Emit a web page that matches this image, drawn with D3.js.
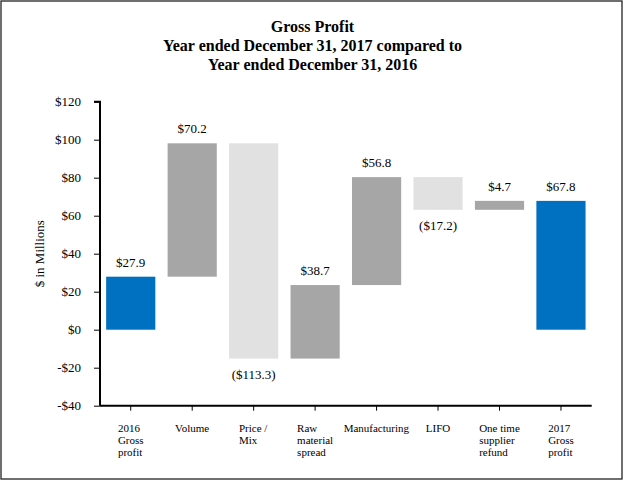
<!DOCTYPE html>
<html>
<head>
<meta charset="utf-8">
<script src="https://cdn.jsdelivr.net/npm/d3@7"></script>
<style>
  html, body { margin: 0; padding: 0; background: #fff; }
  svg { display: block; font-family: "Liberation Serif", "Times New Roman", serif; }
</style>
</head>
<body>
<svg id="chart" width="626" height="486"></svg>
<script>
const titleLines = ["Gross Profit", "Year ended December 31, 2017 compared to", "Year ended December 31, 2016"];
const categories = ["2016\nGross\nprofit", "Volume", "Price /\nMix", "Raw\nmaterial\nspread", "Manufacturing", "LIFO", "One time\nsupplier\nrefund", "2017\nGross\nprofit"];
const values = [27.9, 70.2, -113.3, 38.7, 56.8, -17.2, 4.7, 67.8];
const kinds = ["total", "delta", "delta", "delta", "delta", "delta", "delta", "total"];
const yTicks = [-40, -20, 0, 20, 40, 60, 80, 100, 120];
const yLabel = "$ in Millions";

const svg = d3.select("#chart");
const W = 626, H = 486;
const margin = { left: 100, right: 34.3, top: 101.7, bottom: 80.3 };
const serif = "Liberation Serif, Times New Roman, serif";

// frame
svg.append("rect").attr("x", 1).attr("y", 1).attr("width", 621).attr("height", 478)
  .attr("fill", "none").attr("stroke", "#222").attr("stroke-width", 1.3);

// title
const title = svg.append("text").attr("text-anchor", "middle")
  .attr("font-weight", "bold").attr("font-size", 16).attr("fill", "#000");
titleLines.forEach((t, i) => {
  title.append("tspan").attr("x", 312.5).attr("y", 32.3 + i * 19).text(t);
});

const x = d3.scaleBand().domain(categories).range([margin.left, W - margin.right]).paddingInner(0.2).paddingOuter(0.1);
const y = d3.scaleLinear().domain([-40, 120]).range([H - margin.bottom, margin.top]);

// waterfall computation
let running = 0;
const bars = categories.map((c, i) => {
  const v = values[i];
  let y0, y1;
  if (kinds[i] === "total") { y0 = 0; y1 = v; running = v; }
  else { y0 = running; y1 = running + v; running = y1; }
  return { c, v, kind: kinds[i], lo: Math.min(y0, y1), hi: Math.max(y0, y1) };
});

const color = d => d.kind === "total" ? "#0070C0" : (d.v >= 0 ? "#A6A6A6" : "#E1E1E1");

svg.append("g").selectAll("rect").data(bars).join("rect")
  .attr("x", d => x(d.c))
  .attr("width", x.bandwidth())
  .attr("y", d => y(d.hi))
  .attr("height", d => y(d.lo) - y(d.hi))
  .attr("fill", color);

const fmt = v => v >= 0 ? "$" + d3.format(".1f")(v) : "($" + d3.format(".1f")(-v) + ")";

svg.append("g").attr("font-family", serif).selectAll("text").data(bars).join("text")
  .attr("text-anchor", "middle")
  .attr("font-size", 13)
  .attr("fill", "#000")
  .attr("x", d => x(d.c) + x.bandwidth() / 2)
  .attr("y", d => d.v >= 0 ? y(d.hi) - 10 : y(d.lo) + 20)
  .text(d => fmt(d.v));

// y axis
const yAxis = d3.axisLeft(y).tickValues(yTicks).tickSize(6).tickPadding(13)
  .tickFormat(v => v < 0 ? "-$" + (-v) : "$" + v);
const gy = svg.append("g").attr("transform", `translate(${margin.left},0)`).call(yAxis);
gy.attr("font-family", serif);
gy.select(".domain").attr("stroke", "#000").attr("stroke-width", 2).attr("d", `M-6,${y(120)}H0V${y(-40)}`);
gy.selectAll(".tick line").attr("stroke", "#000");
gy.selectAll(".tick text").attr("font-size", 13).attr("font-family", serif).attr("fill", "#000");

// x axis
const xAxis = d3.axisBottom(x).tickSize(5).tickFormat("");
const gx = svg.append("g").attr("transform", `translate(0,${y(-40)})`).call(xAxis);
gx.select(".domain").attr("stroke", "#000").attr("stroke-width", 2).attr("d", `M${margin.left},0H${W - margin.right}`);
gx.selectAll(".tick line").attr("stroke", "#000");

// multi-line category labels: left-aligned lines, block centered on tick
const labG = svg.append("g").attr("font-size", 11).attr("font-family", serif).attr("fill", "#000");
categories.forEach(c => {
  const t = labG.append("text").attr("text-anchor", "start");
  c.split("\n").forEach((line, i) => {
    t.append("tspan").attr("x", 0).attr("y", y(-40) + 26.5 + i * 12).text(line);
  });
  const w = t.node().getBBox().width;
  t.attr("transform", `translate(${x(c) + x.bandwidth() / 2 - w / 2},0)`);
});

// y label
svg.append("text").attr("text-anchor", "middle").attr("font-size", 13).attr("font-family", serif).attr("fill", "#000")
  .attr("transform", `translate(43.5,${(y(120) + y(-40)) / 2}) rotate(-90)`)
  .text(yLabel);
</script>
</body>
</html>
